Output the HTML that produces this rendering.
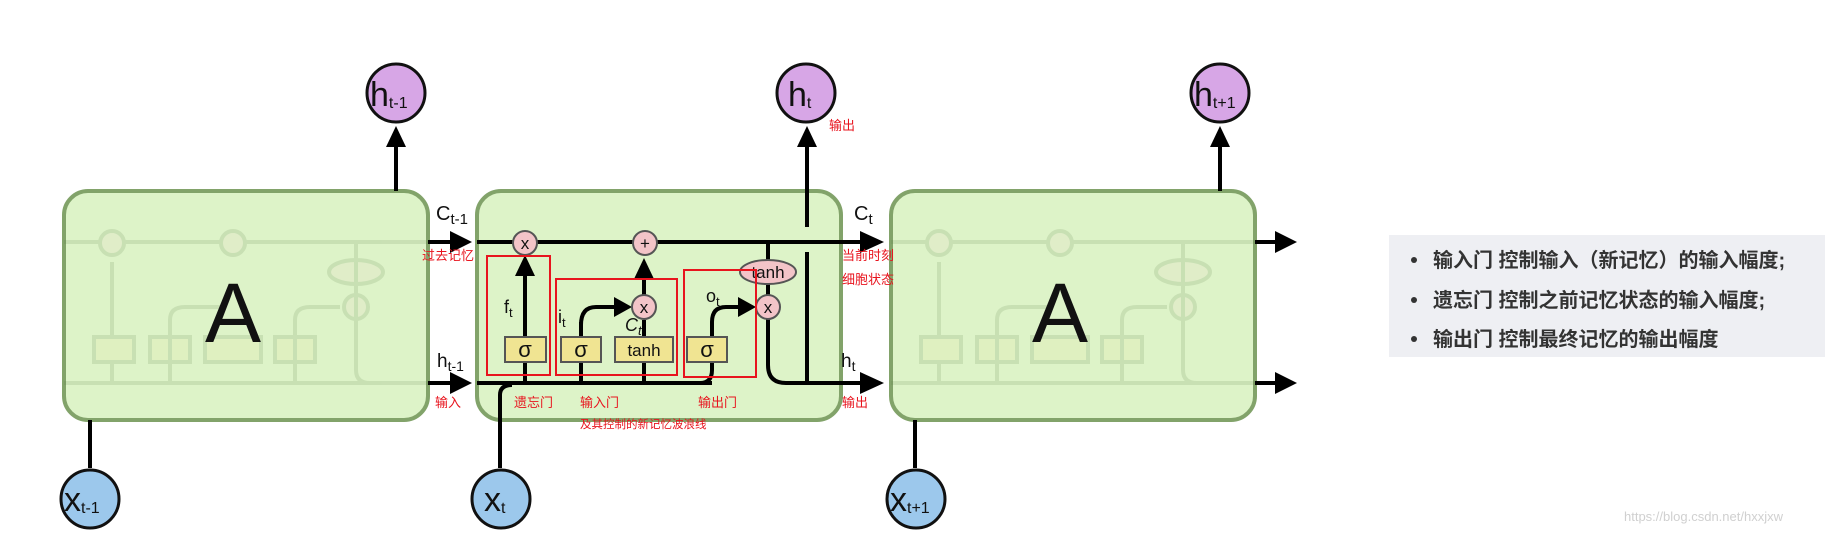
<!DOCTYPE html>
<html><head><meta charset="utf-8"><style>
html,body{margin:0;padding:0;background:#fff;}
svg{display:block;}
</style></head><body>
<svg width="1825" height="537" viewBox="0 0 1825 537" xmlns="http://www.w3.org/2000/svg" font-family="Liberation Sans, DejaVu Sans, sans-serif">
<!-- boxes -->
<rect x="64" y="191" width="364" height="229" rx="24" fill="#ddf3c8" stroke="#82a36a" stroke-width="4"/>
<rect x="477" y="191" width="364" height="229" rx="24" fill="#ddf3c8" stroke="#82a36a" stroke-width="4"/>
<rect x="891" y="191" width="364" height="229" rx="24" fill="#ddf3c8" stroke="#82a36a" stroke-width="4"/>

<!-- faint internals left & right -->
<g opacity="0.15" stroke="#557744" stroke-width="4" fill="none">
<line x1="64" y1="242" x2="428" y2="242"/>
<line x1="64" y1="383" x2="428" y2="383"/>
<line x1="112" y1="383" x2="112" y2="262"/>
<rect x="94" y="337" width="40" height="25" fill="#eee29a"/>
<rect x="150" y="337" width="40" height="25" fill="#eee29a"/>
<rect x="205" y="337" width="56" height="25" fill="#eee29a"/>
<rect x="275" y="337" width="40" height="25" fill="#eee29a"/>
<circle cx="112" cy="243" r="12" fill="#f3cccc"/>
<circle cx="233" cy="243" r="12" fill="#f3cccc"/>
<ellipse cx="356" cy="272" rx="27" ry="12" fill="#f3cccc"/>
<circle cx="356" cy="307" r="12" fill="#f3cccc"/>
<path d="M356 243 V370 Q356 383 370 383"/>
<path d="M170 383 V320 Q170 307 185 307 H220"/>
<path d="M295 383 V320 Q295 307 310 307 H340"/>
</g>
<g opacity="0.15" stroke="#557744" stroke-width="4" fill="none" transform="translate(827,0)">
<line x1="64" y1="242" x2="428" y2="242"/>
<line x1="64" y1="383" x2="428" y2="383"/>
<line x1="112" y1="383" x2="112" y2="262"/>
<rect x="94" y="337" width="40" height="25" fill="#eee29a"/>
<rect x="150" y="337" width="40" height="25" fill="#eee29a"/>
<rect x="205" y="337" width="56" height="25" fill="#eee29a"/>
<rect x="275" y="337" width="40" height="25" fill="#eee29a"/>
<circle cx="112" cy="243" r="12" fill="#f3cccc"/>
<circle cx="233" cy="243" r="12" fill="#f3cccc"/>
<ellipse cx="356" cy="272" rx="27" ry="12" fill="#f3cccc"/>
<circle cx="356" cy="307" r="12" fill="#f3cccc"/>
<path d="M356 243 V370 Q356 383 370 383"/>
<path d="M170 383 V320 Q170 307 185 307 H220"/>
<path d="M295 383 V320 Q295 307 310 307 H340"/>
</g>

<text x="233" y="342" font-size="84" text-anchor="middle" fill="#111">A</text>
<text x="1060" y="342" font-size="84" text-anchor="middle" fill="#111">A</text>

<g stroke="#000" stroke-width="4" fill="none">
<line x1="396" y1="191" x2="396" y2="145"/>
<line x1="1220" y1="191" x2="1220" y2="145"/>
<line x1="807" y1="227" x2="807" y2="145"/>
<line x1="807" y1="252" x2="807" y2="383"/>
<line x1="90" y1="420" x2="90" y2="468"/>
<line x1="915" y1="420" x2="915" y2="468"/>
<path d="M500 468 V395 Q500 385 512 385"/>
<line x1="428" y1="242" x2="450" y2="242"/>
<line x1="428" y1="383" x2="450" y2="383"/>
<line x1="477" y1="242" x2="860" y2="242"/>
<line x1="477" y1="383" x2="712" y2="383"/>
<path d="M700 383 Q712 383 712 370 V322 Q712 307 726 307 H748"/>
<path d="M768 243 V365 Q768 383 786 383 H860"/>
<line x1="1255" y1="242" x2="1275" y2="242"/>
<line x1="1255" y1="383" x2="1275" y2="383"/>
<line x1="525" y1="383" x2="525" y2="275"/>
<line x1="581" y1="383" x2="581" y2="322"/>
<path d="M581 325 Q581 307 596 307 H620"/>
<line x1="644" y1="383" x2="644" y2="320"/>
<line x1="644" y1="295" x2="644" y2="270"/>
</g>
<g fill="#000">
<polygon points="396,126 386,147 406,147"/>
<polygon points="807,126 797,147 817,147"/>
<polygon points="1220,126 1210,147 1230,147"/>
<polygon points="472,242 450,231 450,253"/>
<polygon points="472,383 450,372 450,394"/>
<polygon points="884,242 860,231 860,253"/>
<polygon points="884,383 860,372 860,394"/>
<polygon points="1297,242 1275,231 1275,253"/>
<polygon points="1297,383 1275,372 1275,394"/>
<polygon points="525,255 515,276 535,276"/>
<polygon points="644,258 634,279 654,279"/>
<polygon points="632,307 614,297 614,317"/>
<polygon points="756,307 738,297 738,317"/>
</g>
<g stroke="#555" stroke-width="2">
<rect x="505" y="337" width="41" height="25" fill="#f0e492"/>
<rect x="561" y="337" width="40" height="25" fill="#f0e492"/>
<rect x="615" y="337" width="58" height="25" fill="#f0e492"/>
<rect x="687" y="337" width="40" height="25" fill="#f0e492"/>
<circle cx="525" cy="243" r="12" fill="#f3c4c8"/>
<circle cx="645" cy="243" r="12" fill="#f3c4c8"/>
<circle cx="644" cy="307" r="12" fill="#f3c4c8"/>
<circle cx="768" cy="307" r="12" fill="#f3c4c8"/>
<ellipse cx="768" cy="272" rx="28" ry="12" fill="#f3c4c8"/>
</g>
<g font-size="17" fill="#111" text-anchor="middle">
<text x="525" y="249">x</text><text x="645" y="249">+</text>
<text x="644" y="313">x</text><text x="768" y="313">x</text>
<text x="768" y="278">tanh</text>
<text x="525" y="357" font-size="22">σ</text><text x="581" y="357" font-size="22">σ</text>
<text x="644" y="356">tanh</text><text x="707" y="357" font-size="22">σ</text>
</g>
<g font-size="18" fill="#111">
<text x="504" y="313">f<tspan font-size="13" dy="4">t</tspan></text>
<text x="558" y="323">i<tspan font-size="13" dy="4">t</tspan></text>
<text x="625" y="331" font-style="italic">C<tspan font-size="13" dy="4">t</tspan></text>
<text x="706" y="302">o<tspan font-size="13" dy="4">t</tspan></text>
<text x="436" y="220" font-size="20">C<tspan font-size="15" dy="4">t-1</tspan></text>
<text x="437" y="367" font-size="19">h<tspan font-size="14" dy="4">t-1</tspan></text>
<text x="854" y="220" font-size="20">C<tspan font-size="15" dy="4">t</tspan></text>
<text x="841" y="367" font-size="19">h<tspan font-size="14" dy="4">t</tspan></text>
</g>
<g fill="none" stroke="#e8141e" stroke-width="2">
<rect x="487" y="256" width="63" height="119"/>
<rect x="556" y="279" width="121" height="96"/>
<rect x="684" y="270" width="72" height="107"/>
</g>
<g font-family="Liberation Sans, Noto Sans CJK SC, sans-serif" font-size="13" fill="#e8141e">
<text x="422" y="260">过去记忆</text>
<text x="435" y="407">输入</text>
<text x="514" y="407">遗忘门</text>
<text x="580" y="407">输入门</text>
<text x="698" y="407">输出门</text>
<text x="580" y="428" font-size="11.5">及其控制的新记忆波浪线</text>
<text x="829" y="130">输出</text>
<text x="842" y="260">当前时刻</text>
<text x="842" y="284">细胞状态</text>
<text x="842" y="407">输出</text>
</g>
<g stroke="#111" stroke-width="3">
<circle cx="396" cy="93" r="29" fill="#d7a6e6"/>
<circle cx="806" cy="93" r="29" fill="#d7a6e6"/>
<circle cx="1220" cy="93" r="29" fill="#d7a6e6"/>
<circle cx="90" cy="499" r="29" fill="#9cc8ec"/>
<circle cx="501" cy="499" r="29" fill="#9cc8ec"/>
<circle cx="916" cy="499" r="29" fill="#9cc8ec"/>
</g>
<g font-size="34" fill="#111">
<text x="370" y="106">h<tspan font-size="16" dy="2">t-1</tspan></text>
<text x="788" y="106">h<tspan font-size="16" dy="2">t</tspan></text>
<text x="1194" y="106">h<tspan font-size="16" dy="2">t+1</tspan></text>
<text x="64" y="511">x<tspan font-size="16" dy="2">t-1</tspan></text>
<text x="484" y="511">x<tspan font-size="16" dy="2">t</tspan></text>
<text x="890" y="511">x<tspan font-size="16" dy="2">t+1</tspan></text>
</g>
<rect x="1389" y="235" width="436" height="122" fill="#eeeff3"/>
<g font-family="Liberation Sans, Noto Sans CJK SC, sans-serif" font-size="20" font-weight="bold" fill="#333">
<circle cx="1414" cy="260" r="3" fill="#333"/>
<circle cx="1414" cy="300" r="3" fill="#333"/>
<circle cx="1414" cy="339" r="3" fill="#333"/>
<text x="1433" y="267">输入门 控制输入（新记忆）的输入幅度;</text>
<text x="1433" y="307">遗忘门 控制之前记忆状态的输入幅度;</text>
<text x="1433" y="346">输出门 控制最终记忆的输出幅度</text>
</g>
<text x="1624" y="521" font-size="13" fill="#d0d0d0">https://blog.csdn.net/hxxjxw</text>
</svg>
</body></html>
